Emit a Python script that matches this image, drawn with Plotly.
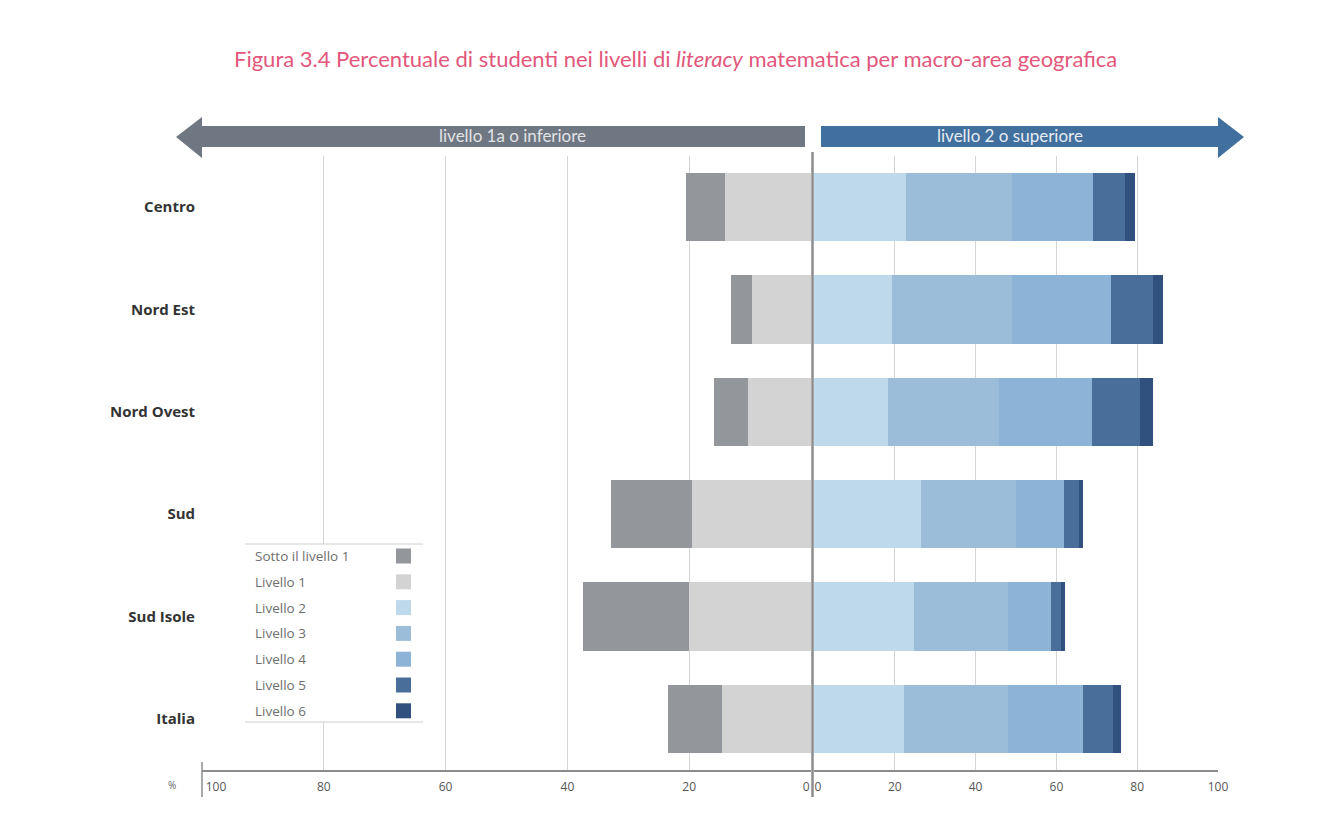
"""Figura 3.4 - livelli di literacy matematica per macro-area"""
import plotly.graph_objects as go

# la pagina ha un margine di 8 px: la figura parte da (8, 8) dello schermo
OFF = 8
W, H = 1324 - OFF, 833 - 2 * OFF

aree = ["Centro", "Nord Est", "Nord Ovest", "Sud", "Sud Isole", "Italia"]

# lato sinistro (livello 1a o inferiore)
sotto_livello_1 = [6.4, 3.4, 5.6, 13.3, 17.4, 8.9]
livello_1 = [14.1, 9.7, 10.3, 19.5, 20.0, 14.6]
# lato destro (livello 2 o superiore)
livello_2 = [22.8, 19.4, 18.4, 26.6, 24.8, 22.3]
livello_3 = [26.3, 29.7, 27.5, 23.4, 23.1, 25.6]
livello_4 = [19.9, 24.3, 22.8, 12.0, 10.7, 18.6]
livello_5 = [8.0, 10.4, 11.9, 3.7, 2.5, 7.5]
livello_6 = [2.4, 2.6, 3.3, 0.8, 1.0, 2.0]

nomi = ["Sotto il livello 1", "Livello 1", "Livello 2", "Livello 3",
        "Livello 4", "Livello 5", "Livello 6"]
colori = ["#93969b", "#d3d3d3", "#bfd9ec", "#9cbdd9", "#8db3d6",
          "#4a6e9a", "#30507e"]

griglia = [20, 40, 60, 80, 100]
# etichette leggermente spostate come nell'originale (0|0 e 100 accanto all'asse)
tick_pos_sx = [0.8, 20, 40, 60, 80, 97.7]
tick_pos_dx = [1.0, 20, 40, 60, 80, 100]
tick_testo = ["0", "20", "40", "60", "80", "100"]


def px(x):
    return (x - OFF) / W


def py(y):
    return 1 - (y - OFF) / H


fig = go.Figure()

# sinistra: livello 1 vicino allo zero, poi sotto il livello 1
for nome, vals, col in [(nomi[1], livello_1, colori[1]),
                        (nomi[0], sotto_livello_1, colori[0])]:
    fig.add_trace(go.Bar(y=aree, x=vals, name=nome, orientation="h",
                         marker=dict(color=col, line_width=0),
                         xaxis="x", yaxis="y", showlegend=False,
                         hovertemplate="%{y}: %{x}%<extra>" + nome + "</extra>"))

for nome, vals, col in zip(nomi[2:], [livello_2, livello_3, livello_4,
                                       livello_5, livello_6], colori[2:]):
    fig.add_trace(go.Bar(y=aree, x=vals, name=nome, orientation="h",
                         marker=dict(color=col, line_width=0),
                         xaxis="x2", yaxis="y2", showlegend=False,
                         hovertemplate="%{y}: %{x}%<extra>" + nome + "</extra>"))

asse = dict(range=[0, 100], ticktext=tick_testo, showgrid=False,
            minor=dict(tickvals=griglia, showgrid=True, gridcolor="#d6d6d6",
                       gridwidth=1, ticks=""),
            zeroline=False, showline=True, linecolor="#8c8c8c", linewidth=2,
            ticks="", ticklabelstandoff=5, automargin=False,
            tickfont=dict(family="Open Sans", size=12, color="#555555"),
            fixedrange=True)

shapes = [
    # bordo nero a destra
    dict(type="rect", xref="paper", yref="paper", x0=px(1316), x1=1,
         y0=0, y1=1, fillcolor="black", line_width=0, layer="above"),
    # frecce
    dict(type="path", xref="paper", yref="paper", fillcolor="#6f7782",
         line_width=0,
         path=(f"M{px(176)},{py(137)} L{px(202)},{py(117)} L{px(202)},{py(126)} "
               f"L{px(805)},{py(126)} L{px(805)},{py(147)} L{px(202)},{py(147)} "
               f"L{px(202)},{py(158)} Z")),
    dict(type="path", xref="paper", yref="paper", fillcolor="#41709e",
         line_width=0,
         path=(f"M{px(821)},{py(126)} L{px(1218)},{py(126)} L{px(1218)},{py(117)} "
               f"L{px(1244)},{py(137)} L{px(1218)},{py(158)} L{px(1218)},{py(147)} "
               f"L{px(821)},{py(147)} Z")),
    # linea dello zero e tacca a 100
    dict(type="line", xref="paper", yref="paper", x0=px(812.5), x1=px(812.5),
         y0=py(797), y1=py(152), line=dict(color="#8c8c8c", width=2.5),
         layer="above"),
    dict(type="line", xref="paper", yref="paper", x0=px(202), x1=px(202),
         y0=py(797), y1=py(762), line=dict(color="#8c8c8c", width=1.5)),
    # riquadro legenda
    dict(type="rect", xref="paper", yref="paper", x0=px(245), x1=px(423),
         y0=py(722), y1=py(544), fillcolor="white", line_width=0,
         layer="above"),
    dict(type="line", xref="paper", yref="paper", x0=px(245), x1=px(423),
         y0=py(544), y1=py(544), line=dict(color="#d0d0d0", width=1),
         layer="above"),
    dict(type="line", xref="paper", yref="paper", x0=px(245), x1=px(423),
         y0=py(722), y1=py(722), line=dict(color="#d0d0d0", width=1),
         layer="above"),
]


def testo(t, x, y, size, color, family="Lato", xanchor="center"):
    return dict(text=t, x=px(x), y=py(y), xref="paper", yref="paper",
                xanchor=xanchor, yanchor="middle", showarrow=False,
                font=dict(family=family, size=size, color=color))


annotations = [
    testo("Figura 3.4 Percentuale di studenti nei livelli di <i>literacy</i> "
          "matematica per macro-area geografica", 675, 58, 22, "#e2577b"),
    testo("livello 1a o inferiore", 512, 136, 17, "#e1e3e6"),
    testo("livello 2 o superiore", 1010, 136, 17, "#e6ecf3"),
    testo("%", 172, 785, 10, "#666666", family="Open Sans"),
]

# legenda personalizzata (testo a sinistra, quadratino a destra)
for i, (nome, col) in enumerate(zip(nomi, colori)):
    yc = 556 + i * 25.8
    annotations.append(testo(nome, 253, yc, 13.5, "#6e6e6e",
                             family="Open Sans", xanchor="left"))
    shapes.append(dict(type="rect", xref="paper", yref="paper",
                       x0=px(396), x1=px(411), y0=py(yc + 7.5), y1=py(yc - 7.5),
                       fillcolor=col, line_width=0, layer="above"))

fig.update_layout(
    width=W, height=H,
    margin=dict(l=0, r=0, t=0, b=0, autoexpand=False),
    paper_bgcolor="white", plot_bgcolor="rgba(0,0,0,0)",
    barmode="stack", bargap=0.33,
    xaxis=dict(asse, domain=[px(202), px(811)], autorange=False,
               range=[100, 0], tickvals=tick_pos_sx, anchor="y"),
    xaxis2=dict(asse, domain=[px(814), px(1218)], tickvals=tick_pos_dx,
                anchor="y2"),
    yaxis=dict(domain=[py(770), py(156)], categoryorder="array",
               categoryarray=aree, autorange="reversed", anchor="x",
               showgrid=False, zeroline=False, ticks="", ticklabelstandoff=6,
               automargin=False,
               tickfont=dict(family="Open Sans", size=15, color="#333333",
                             weight="bold"),
               fixedrange=True),
    yaxis2=dict(domain=[py(770), py(156)], matches="y", anchor="x2",
                showticklabels=False, showgrid=False, zeroline=False,
                automargin=False, fixedrange=True),
    shapes=shapes,
    annotations=annotations,
    showlegend=False,
)

fig.write_html("out.html")
